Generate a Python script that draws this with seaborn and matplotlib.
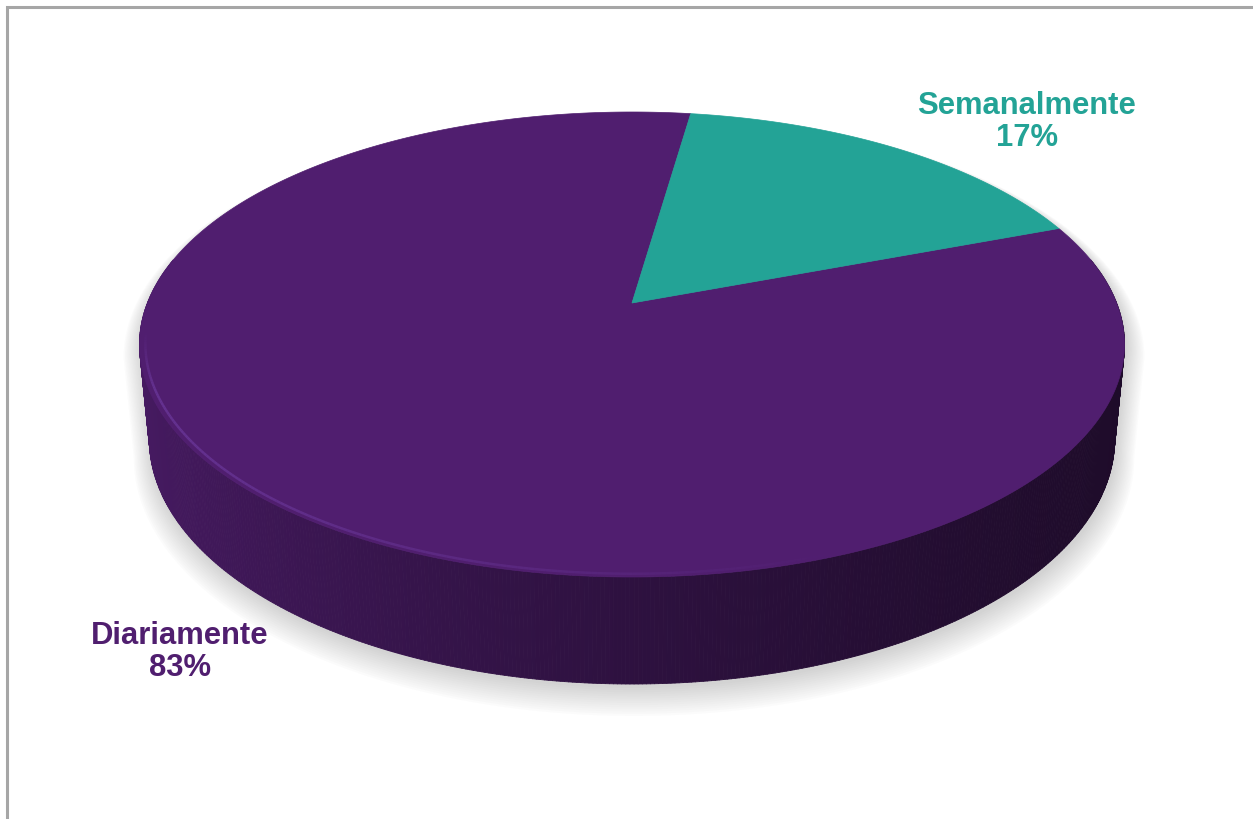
import numpy as np
import matplotlib
matplotlib.use("Agg")
import matplotlib.pyplot as plt
import seaborn as sns
from matplotlib.collections import PolyCollection, LineCollection
from matplotlib.patches import Polygon

# Survey answers: how often
categories = ["Diariamente", "Semanalmente"]
shares = [83, 17]
slice_colors = ["#501E6F", "#23A396"]

sns.set_theme(style="white")
plt.rcParams["font.family"] = ["Liberation Sans", "DejaVu Sans"]
palette = sns.color_palette(slice_colors)

fig = plt.figure(figsize=(12.53, 8.2), dpi=100)
ax = fig.add_axes([0, 0, 1, 1])
ax.set_xlim(0, 1253)
ax.set_ylim(820, 0)
ax.axis("off")

# 3D pie layout (perspective view of a disc)
CX, CY = 632, 304          # projected centre of the disc
A, B = 484.6, 225.1        # horizontal / depth radii
K = 0.1785                 # perspective strength
H0 = 92.4                  # thickness
SB = 0.98                  # bottom face shrink
START = 20.6               # angle of first slice (deg), clockwise


def rim(t, bottom=False, scale=1.0):
    x, y = np.cos(t), np.sin(t)
    w = 1 + K * y
    if bottom:
        return CX + SB * A * x / w, CY + H0 / w - SB * B * y / w
    return CX + scale * A * x / w, CY - scale * B * y / w


total = float(sum(shares))
edges = START - 360.0 * np.concatenate([[0], np.cumsum(shares)]) / total

# soft drop shadow under the whole solid
t_ext = np.arcsin(-K)
t_top = np.linspace(t_ext, np.pi - t_ext, 300)
t_bot = np.linspace(np.pi - t_ext, 2 * np.pi + t_ext, 300)
sx = np.concatenate([rim(t_top)[0], rim(t_bot, True)[0]])
sy = np.concatenate([rim(t_top)[1], rim(t_bot, True)[1]])
mx, top_y = sx.mean(), sy.min() + 60
for i in range(14):
    ex = 1 + i * 0.0028
    ey = 1 + i * 0.0042
    ax.add_patch(Polygon(np.column_stack([mx + (sx - mx) * ex + 2,
                                          top_y + (sy - top_y) * ey + 4]),
                         closed=True, facecolor="#7a7a7a", edgecolor="none",
                         alpha=0.022, zorder=1))

# side wall, shaded left-to-right
def slice_at(tdeg):
    for i in range(len(shares)):
        hi, lo = edges[i], edges[i + 1]
        d = (hi - tdeg) % 360
        if d <= hi - lo:
            return i
    return 0

ts = np.linspace(np.pi + t_ext - 0.02, 2 * np.pi - t_ext + 0.02, 500)
quads, fcs = [], []
for t0, t1 in zip(ts[:-1], ts[1:]):
    x0, y0 = rim(t0)
    x1, y1 = rim(t1)
    bx0, by0 = rim(t0, True)
    bx1, by1 = rim(t1, True)
    quads.append([(x0, y0), (x1, y1), (bx1, by1), (bx0, by0)])
    u = np.clip(((x0 + x1) / 2 - 140) / 985, 0, 1)
    f = 0.88 - 0.5 * u ** 0.7
    base = np.array(palette[slice_at(np.degrees((t0 + t1) / 2))])
    fcs.append(tuple(base * f))
ax.add_collection(PolyCollection(quads, facecolors=fcs, edgecolors=fcs,
                                 linewidths=0.6, zorder=2))

# top faces
for i, col in enumerate(palette):
    tt = np.radians(np.linspace(edges[i], edges[i + 1], 400))
    px, py = rim(tt)
    pts = np.column_stack([np.r_[CX, px], np.r_[CY, py]])
    ax.add_patch(Polygon(pts, closed=True, facecolor=col, edgecolor=col,
                         linewidth=0.5, zorder=3))

# bevel highlight along the front rim
tb = np.linspace(np.pi + 0.12, 2 * np.pi - 0.05, 300)
hx, hy = rim(tb, scale=0.988)
segs = [[(hx[j], hy[j]), (hx[j + 1], hy[j + 1])] for j in range(len(tb) - 1)]
ramp_in = np.clip((tb[:-1] - np.pi - 0.12) / 0.25, 0, 1)
alph = np.clip(1 - (hx[:-1] - 140) / 700, 0, 1) * 0.6 * ramp_in
hl_cols = [(0.45, 0.25, 0.66, a) for a in alph]
ax.add_collection(LineCollection(segs, colors=hl_cols, linewidths=1.8, zorder=4))

# labels
label_pos = [(180, 652), (1027, 122)]
for i, cat in enumerate(categories):
    ax.text(*label_pos[i], f"{cat}\n{shares[i]}%", color=palette[i],
            fontsize=22.3, fontweight="bold", ha="center", va="center",
            linespacing=1.1, zorder=5)

# chart frame
ax.plot([7, 7, 1300], [900, 8, 8], color="#A6A6A6", lw=2.2,
        solid_joinstyle="miter", zorder=6, clip_on=False)

fig.savefig("out.png", dpi=100, facecolor="white")
